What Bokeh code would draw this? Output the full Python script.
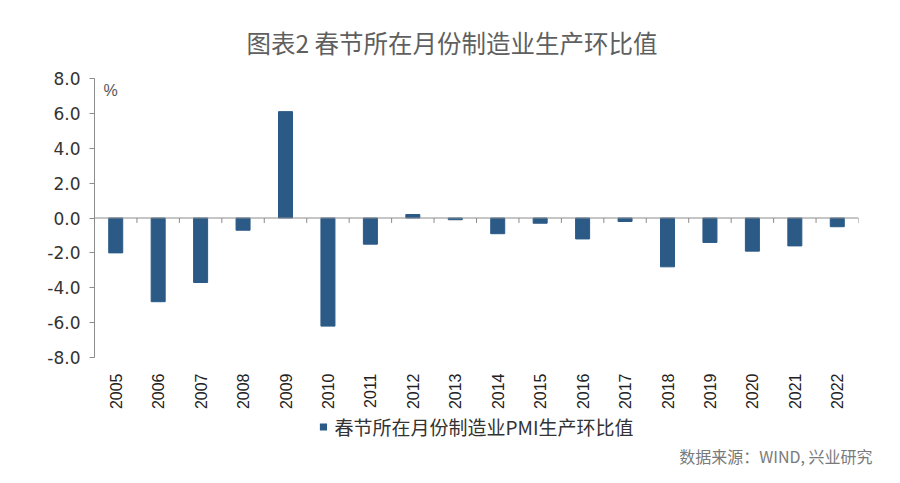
from bokeh.plotting import figure
from bokeh.layouts import column
from bokeh.models import (ColumnDataSource, Range1d, FixedTicker, NumeralTickFormatter,
                          Span, Label, Legend, LegendItem, FactorRange, Title)
from bokeh.embed import file_html
from bokeh.resources import INLINE

# ---- data ----
years = ["2005", "2006", "2007", "2008", "2009", "2010", "2011", "2012", "2013",
         "2014", "2015", "2016", "2017", "2018", "2019", "2020", "2021", "2022"]
values = [-2.0, -4.8, -3.7, -0.7, 6.1, -6.2, -1.5, 0.2, -0.1,
          -0.9, -0.3, -1.2, -0.2, -2.8, -1.4, -1.9, -1.6, -0.5]
y_ticks = [-8, -6, -4, -2, 0, 2, 4, 6, 8]
series_name = "春节所在月份制造业PMI生产环比值"
title_text = "图表2 春节所在月份制造业生产环比值"
source_text = "数据来源：WIND, 兴业研究"
unit_text = "%"

BAR = "#2b5a87"
AXIS = "#8c8c8c"
CJK = "Noto Sans CJK SC"

W, H_TOP, H_BOT = 884, 412, 55
xr = FactorRange(*years)
p = figure(width=W, height=H_TOP, output_backend="svg", toolbar_location=None,
           x_range=xr, y_range=Range1d(y_ticks[0], y_ticks[-1]),
           min_border_left=94, min_border_right=26, min_border_top=78, min_border_bottom=54)
p.outline_line_color = None
p.xgrid.grid_line_color = None
p.ygrid.grid_line_color = None
p.background_fill_color = "white"
p.border_fill_color = "white"

src = ColumnDataSource(dict(x=years, top=values))
r = p.vbar(x="x", top="top", width=0.33, source=src, fill_color=BAR, line_color=BAR)

# zero line with category-boundary ticks
p.add_layout(Span(location=0, dimension="width", line_color=AXIS, line_width=1))
bx = list(range(1, len(years) + 1))
tick_len = (y_ticks[-1] - y_ticks[0]) / 280 * 5
p.segment(x0=bx, x1=bx, y0=[0] * len(bx), y1=[-tick_len] * len(bx),
          line_color=AXIS, line_width=1)

# y axis
ya = p.yaxis[0]
ya.ticker = FixedTicker(ticks=y_ticks)
ya.formatter = NumeralTickFormatter(format="0.0")
ya.axis_line_color = AXIS
ya.major_tick_line_color = AXIS
ya.major_tick_out = 5
ya.major_tick_in = 0
ya.minor_tick_line_color = None
ya.major_label_text_font = "DejaVu Sans"
ya.major_label_text_font_size = "17px"
ya.major_label_text_color = "#333333"
ya.major_label_standoff = 9

# x axis
xa = p.xaxis[0]
xa.axis_line_color = None
xa.major_tick_line_color = None
xa.minor_tick_line_color = None
xa.major_label_orientation = 1.5708
xa.major_label_text_font = "Liberation Sans"
xa.major_label_text_font_size = "16px"
xa.major_label_text_color = "#222222"
xa.major_label_standoff = 10

# title
p.title = Title(text=title_text, align="left", offset=152, standoff=38,
                text_font=CJK, text_font_size="24.5px", text_font_style="normal",
                text_color="#5f5f5f")

# unit label inside the frame
p.add_layout(Label(x=9, y=267, x_units="screen", y_units="screen", text=unit_text,
                   text_font="Liberation Sans", text_font_size="16px", text_color="#555555",
                   text_align="left", text_baseline="middle"))

# ---- bottom strip: legend + source ----
q = figure(width=W, height=H_BOT, output_backend="svg", toolbar_location=None,
           x_range=xr, y_range=Range1d(100, 101),
           x_axis_location=None, y_axis_location=None,
           min_border_left=94, min_border_right=26, min_border_top=0, min_border_bottom=0)
q.grid.visible = False
q.outline_line_color = None
q.background_fill_color = "white"
q.border_fill_color = "white"
# same series, hidden in this strip: only its legend swatch is shown
swatch = q.vbar(x="x", top="top", width=0.33, source=src, fill_color=BAR, line_color=None)
swatch.visible = False

legend = Legend(items=[LegendItem(label=series_name, renderers=[swatch])],
                location="top_center", orientation="horizontal",
                border_line_color=None, background_fill_alpha=0,
                inactive_fill_alpha=0,
                padding=0, margin=1, glyph_width=9, glyph_height=9, label_standoff=7,
                label_text_font=CJK, label_text_font_size="19px",
                label_text_color="#333333")
q.add_layout(legend)

q.add_layout(Title(text=source_text, align="right", offset=-14, standoff=0,
                   text_font=CJK, text_font_size="16px", text_font_style="normal",
                   text_color="#7a7a7a"), "below")

layout = column(p, q, spacing=0)
open("out.html", "w").write(file_html(layout, INLINE))
